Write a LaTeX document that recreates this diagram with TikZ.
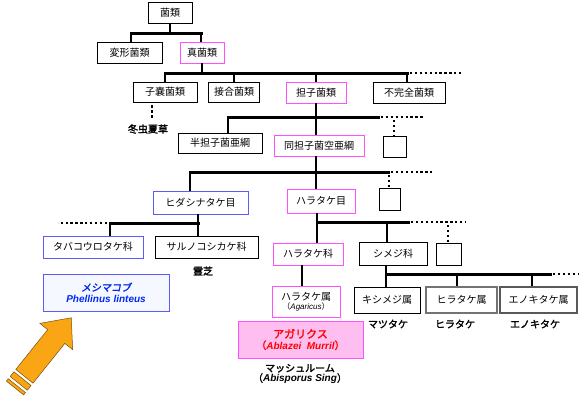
\documentclass[tikz,border=0pt]{standalone}
\usepackage{fontspec}
\setmainfont{Noto Sans CJK JP}[AutoFakeBold=2, AutoFakeSlant=0.2]
\newfontfamily\latf{Liberation Sans}
\definecolor{magc}{RGB}{255,80,255}
\definecolor{bluc}{RGB}{90,90,255}
\definecolor{pinkf}{RGB}{255,190,240}
\definecolor{redt}{RGB}{255,0,0}
\definecolor{bluet}{RGB}{0,40,240}
\definecolor{meshf}{RGB}{245,248,255}
\definecolor{arrowc}{RGB}{250,165,20}
\definecolor{arrowd}{RGB}{120,80,10}
\begin{document}
\begin{tikzpicture}[x=1pt,y=-1pt,
  box/.style={draw, line width=0.9pt, fill=white, inner sep=0pt, font=\fontsize{10}{12}\selectfont},
  mbox/.style={box, draw=magc},
  bbox/.style={box, draw=bluc},
  gbox/.style={box, draw=black!55, line width=1.3pt},
  bar/.style={line width=3pt, line cap=rect},
  stem/.style={line width=2.8pt},
  dots/.style={line width=2.3pt, dash pattern=on 2.3pt off 2.6pt},
  lbl/.style={inner sep=0pt, font=\fontsize{10}{12}\selectfont\bfseries}]
\fill[white] (0,0) rectangle (580,400);
\useasboundingbox (0,0) rectangle (580,400);

% ---- boxes
\node[box, minimum width=44pt, minimum height=21pt] (kin) at (170,12.5) {菌類};
\node[box, minimum width=65pt, minimum height=21pt] (henkei) at (129.5,52.5) {変形菌類};
\node[mbox, minimum width=44pt, minimum height=21pt] (shinkin) at (202,52.5) {真菌類};
\node[box, minimum width=64pt, minimum height=20pt] (shinou) at (165,92) {子嚢菌類};
\node[box, minimum width=51pt, minimum height=20pt] (setsugou) at (234,92) {接合菌類};
\node[mbox, minimum width=60pt, minimum height=21pt] (tanshi) at (316,92.5) {担子菌類};
\node[box, minimum width=72pt, minimum height=21pt] (fukanzen) at (409,92.5) {不完全菌類};
\node[box, minimum width=84pt, minimum height=20pt] (hantan) at (220,143) {半担子菌亜綱};
\node[mbox, minimum width=90pt, minimum height=21pt] (doutan) at (319,145.5) {同担子菌空亜綱};
\node[box, minimum width=23pt, minimum height=21pt] (empty1) at (394.5,146.5) {};
\node[bbox, minimum width=95pt, minimum height=23pt] (hidashi) at (200.5,202.5) {ヒダシナタケ目};
\node[mbox, minimum width=68pt, minimum height=24pt] (harmoku) at (321,201) {ハラタケ目};
\node[box, minimum width=21pt, minimum height=22pt] (empty2) at (390,199) {};
\node[bbox, minimum width=100pt, minimum height=22pt] (tabako) at (93,247) {タバコウロタケ科};
\node[box, minimum width=103pt, minimum height=22pt] (saru) at (206.5,247) {サルノコシカケ科};
\node[box, draw=bluc, fill=meshf, inner sep=0pt, minimum width=126pt, minimum height=37pt, align=center, text=bluet] (meshima) at (106,292.5)
  {\fontsize{10}{12}\selectfont\bfseries\itshape メシマコブ\\[-1pt]{\latf\bfseries\itshape\fontsize{10}{12}\selectfont Phellinus linteus}};
\node[mbox, minimum width=70pt, minimum height=22pt] (haraka) at (308,254) {ハラタケ科};
\node[box, minimum width=68pt, minimum height=23pt] (shimeji) at (393,253.5) {シメジ科};
\node[box, minimum width=25pt, minimum height=22pt] (empty3) at (448.5,254) {};
\node[mbox, minimum width=68pt, minimum height=31pt, align=center] (harazoku) at (306,301.5)
  {ハラタケ属\\[-3pt]{\fontsize{8}{10}\selectfont （{\latf\itshape Agaricus}）}};
\node[box, draw=magc, fill=pinkf, minimum width=125pt, minimum height=37pt, align=center, text=redt] (agaricus) at (300.5,339.5)
  {\fontsize{11}{13}\selectfont\bfseries アガリクス\\[-1pt]{\fontsize{10}{12}\selectfont\bfseries （{\latf\bfseries\itshape Ablazei\ \ Murril}）}};
\node[box, minimum width=66pt, minimum height=26pt] (kishimeji) at (387,300) {キシメジ属};
\node[gbox, minimum width=71pt, minimum height=26pt] (hiratake) at (461.5,300) {ヒラタケ属};
\node[gbox, draw=black!65, minimum width=77pt, minimum height=26pt] (enoki) at (538.5,300) {エノキタケ属};

% ---- labels
\node[lbl] (toukasou) at (148,129) {冬虫夏草};
\node[lbl] (reishi) at (203,271) {霊芝};
\node[lbl, align=center] (mush) at (300,374)
  {マッシュルーム\\[-2pt]（{\latf\bfseries\itshape Abisporus Sing}）};
\node[lbl] (matsutake) at (388,324) {マツタケ};
\node[lbl] (hiratakel) at (455,324) {ヒラタケ};
\node[lbl] (enokil) at (535,324) {エノキタケ};

% ---- level 1
\coordinate (b1l) at (131,33); \coordinate (b1r) at (201,33);
\draw[stem] (kin.south) -- (kin.south |- b1l);
\draw[bar] (b1l) -- (b1r);
\draw[stem] (b1l) -- (henkei.north -| b1l);
\draw[stem] (b1r) -- (shinkin.north -| b1r);

% ---- level 2
\coordinate (b2l) at (165,73); \coordinate (b2r) at (407,73); \coordinate (b2e) at (462,73);
\draw[stem] (shinkin.south) -- (shinkin.south |- b2l);
\draw[bar] (b2l) -- (b2r);
\draw[dots] (b2r) ++(3,0) -- (b2e);
\draw[stem] (b2l) -- (shinou.north -| b2l);
\draw[stem] (setsugou.north |- b2l) -- (setsugou.north);
\draw[stem] (tanshi.north |- b2l) -- (tanshi.north);
\draw[stem] (b2r) -- (fukanzen.north -| b2r);
\coordinate (c1) at (152,118);
\draw[dots] (shinou.south -| c1) ++(0,3) -- (c1);

% ---- level 3
\coordinate (b3l) at (228,117); \coordinate (b3r) at (378,117); \coordinate (b3e) at (425,117);
\coordinate (b3d) at (394,117);
\draw[stem] (tanshi.south) -- (tanshi.south |- doutan.north);
\draw[bar] (b3l) -- (b3r);
\draw[dots] (b3r) ++(3,0) -- (b3e);
\draw[stem] (b3l) -- (hantan.north -| b3l);
\draw[dots] (b3d) ++(0,3) -- (empty1.north -| b3d);

% ---- level 4
\coordinate (b4l) at (190,172); \coordinate (b4r) at (388,172); \coordinate (b4e) at (432,172);
\coordinate (v1) at (316,172);
\draw[stem] (v1 |- doutan.south) -- (v1 |- harmoku.north);
\draw[bar] (b4l) -- (b4r);
\draw[dots] (b4r) ++(3,0) -- (b4e);
\draw[stem] (b4l) -- (hidashi.north -| b4l);
\draw[dots] (389,175) -- (empty2.north -| 389,0);

% ---- level 5 left
\coordinate (b5l) at (110,223); \coordinate (b5r) at (198,223); \coordinate (b5e) at (58,223);
\draw[stem] (b5r |- hidashi.south) -- (b5r |- saru.north);
\draw[bar] (b5l) -- (b5r);
\draw[dots] (b5l) ++(-3,0) -- (b5e);
\draw[stem] (b5l) -- (tabako.north -| b5l);

% ---- level 5 right
\coordinate (b6l) at (317,222); \coordinate (b6r) at (408,222); \coordinate (b6e) at (465,222);
\coordinate (b6m) at (387,222); \coordinate (b6d) at (448,222);
\draw[stem] (b6l |- harmoku.south) -- (b6l |- haraka.north);
\draw[bar] (b6l) -- (b6r);
\draw[dots] (b6r) ++(3,0) -- (b6e);
\draw[stem] (b6m) -- (shimeji.north -| b6m);
\draw[dots] (b6d) ++(0,3) -- (empty3.north -| b6d);

% ---- level 6
\coordinate (v2) at (302,276);
\draw[stem] (v2 |- haraka.south) -- (v2 |- harazoku.north);
\coordinate (b7l) at (386,274); \coordinate (b7r) at (550,274); \coordinate (b7e) at (578,274);
\coordinate (b7a) at (457,274); \coordinate (b7b) at (532,274);
\draw[stem] (b7l |- shimeji.south) -- (b7l |- kishimeji.north);
\draw[bar] (b7l) -- (b7r);
\draw[dots] (b7r) ++(3,0) -- (b7e);
\draw[stem] (b7a) -- (hiratake.north -| b7a);
\draw[stem] (b7b) -- (enoki.north -| b7b);

% ---- orange arrow
\begin{scope}[shift={(15,388)}, rotate=51.3]
  \filldraw[fill=arrowc, draw=arrowd, line width=0.5pt]
    (0,-11) -- (3,-11) -- (3,11) -- (0,11) -- cycle;
  \filldraw[fill=arrowc, draw=arrowd, line width=0.5pt]
    (6,-11) -- (12,-11) -- (12,11) -- (6,11) -- cycle;
  \filldraw[fill=arrowc, draw=arrowd, line width=0.5pt]
    (15,-11) -- (66,-11) -- (66,-21) -- (90,0) -- (66,21) -- (66,11) -- (15,11) -- cycle;
\end{scope}
\end{tikzpicture}
\end{document}
